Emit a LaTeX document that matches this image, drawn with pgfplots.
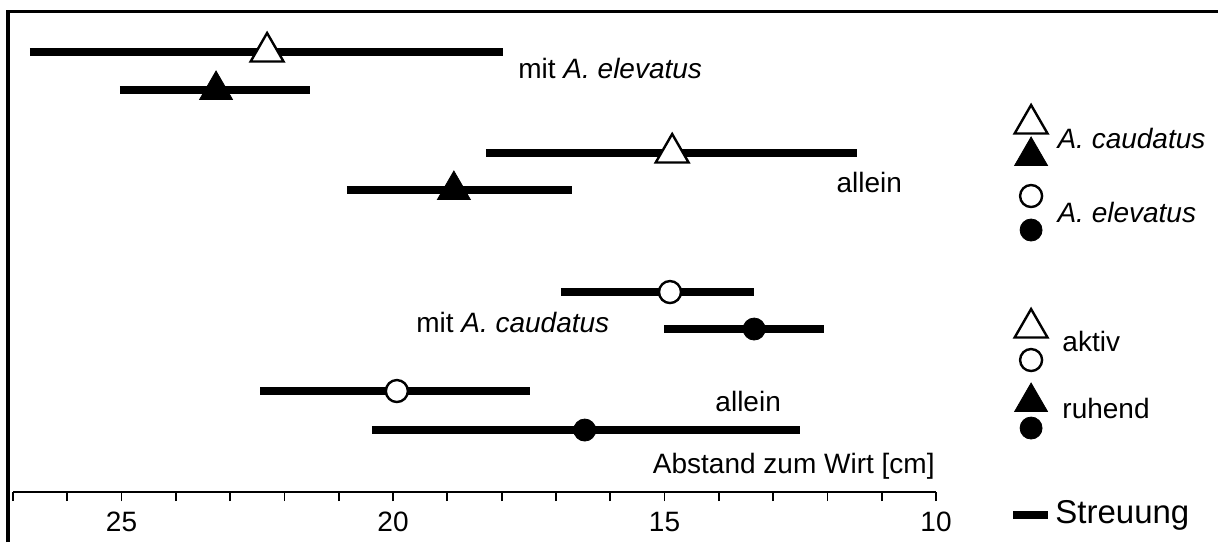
\documentclass[border=0pt]{standalone}
\usepackage{fontspec}
\setmainfont{Liberation Sans}
\usepackage{pgfplots}
\pgfplotsset{compat=1.18}

\begin{document}
\begin{tikzpicture}
\begin{axis}[
    scale only axis,
    width=461.5pt, height=240pt,
    xmin=10, xmax=27, x dir=reverse,
    ymin=-492, ymax=-12,
    axis x line*=bottom, axis y line=none,
    xtick={10,15,20,25}, minor xtick={11,...,27},
    tick align=outside,
    major tick length=4.5pt, minor tick length=4.5pt,
    every tick/.style={black, line width=0.9pt},
    axis line style={line width=0.9pt},
    xticklabel style={font=\fontsize{14}{16}\selectfont, yshift=-2pt},
    /pgf/number format/assume math mode=true,
    clip=false,
]
% Streuung (ranges)
\addplot[black, line width=4.2pt] coordinates {(26.69,-52) (17.98,-52)};
\addplot[black, line width=4.2pt] coordinates {(25.03,-90) (21.53,-90)};
\addplot[black, line width=4.2pt] coordinates {(18.29,-153) (11.46,-153)};
\addplot[black, line width=4.2pt] coordinates {(20.85,-190) (16.71,-190)};
\addplot[black, line width=4.2pt] coordinates {(16.91,-292) (13.35,-292)};
\addplot[black, line width=4.2pt] coordinates {(15.01,-329) (12.06,-329)};
\addplot[black, line width=4.2pt] coordinates {(22.45,-391) (17.48,-391)};
\addplot[black, line width=4.2pt] coordinates {(20.39,-430) (12.51,-430)};

% A. caudatus: aktiv / ruhend
\addplot[only marks, mark=triangle*, mark size=9.5pt,
    mark options={draw=black, fill=white, line width=1.2pt}]
    coordinates {(22.32,-52) (14.86,-153)};
\addplot[only marks, mark=triangle*, mark size=9.5pt,
    mark options={draw=black, fill=black}]
    coordinates {(23.26,-90) (18.88,-190)};

% A. elevatus: aktiv / ruhend
\addplot[only marks, mark=*, mark size=5.5pt,
    mark options={draw=black, fill=white, line width=1.2pt}]
    coordinates {(14.90,-292) (19.93,-391)};
\addplot[only marks, mark=*, mark size=5.5pt,
    mark options={draw=black, fill=black}]
    coordinates {(13.35,-329) (16.47,-430)};

% legend symbols
\addplot[only marks, mark=triangle*, mark size=9.5pt,
    mark options={draw=black, fill=white, line width=1.2pt}]
    coordinates {(8.25,-124) (8.25,-328)};
\addplot[only marks, mark=triangle*, mark size=9.5pt,
    mark options={draw=black, fill=black}]
    coordinates {(8.25,-156) (8.25,-402)};
\addplot[only marks, mark=*, mark size=5.5pt,
    mark options={draw=black, fill=white, line width=1.2pt}]
    coordinates {(8.25,-196) (8.25,-360)};
\addplot[only marks, mark=*, mark size=5.5pt,
    mark options={draw=black, fill=black}]
    coordinates {(8.25,-230) (8.25,-428)};
\addplot[black, line width=4.2pt] coordinates {(8.58,-515) (7.94,-515)};

% texts
\tikzset{lab/.style={inner sep=0pt, font=\fontsize{14}{16}\selectfont}}
\node[lab, anchor=west] at (axis cs:17.70,-68) {mit \textit{A. elevatus}};
\node[lab, anchor=west] at (axis cs:11.84,-182) {allein};
\node[lab, anchor=west] at (axis cs:19.58,-322) {mit \textit{A. caudatus}};
\node[lab, anchor=west] at (axis cs:14.07,-401) {allein};
\node[lab, anchor=east] at (axis cs:10.02,-466) {Abstand zum Wirt [cm]};

\node[lab, anchor=west] at (axis cs:7.77,-138) {\textit{A. caudatus}};
\node[lab, anchor=west] at (axis cs:7.77,-212) {\textit{A. elevatus}};
\node[lab, anchor=west] at (axis cs:7.68,-341) {aktiv};
\node[lab, anchor=west] at (axis cs:7.68,-408) {ruhend};
\node[inner sep=0pt, font=\fontsize{16.5}{18}\selectfont, anchor=west]
    at (axis cs:7.81,-515) {Streuung};

% outer frame (cropped at right and bottom)
\draw[line width=1.8pt] (axis cs:27.092,-542) -- (axis cs:27.092,-11.5) -- (axis cs:4.808,-11.5);

\coordinate (bl) at (axis cs:27.239,-542);
\coordinate (tr) at (axis cs:4.808,0);
\end{axis}
\pgfresetboundingbox
\path[use as bounding box] (bl) rectangle (tr);
\end{tikzpicture}
\end{document}
